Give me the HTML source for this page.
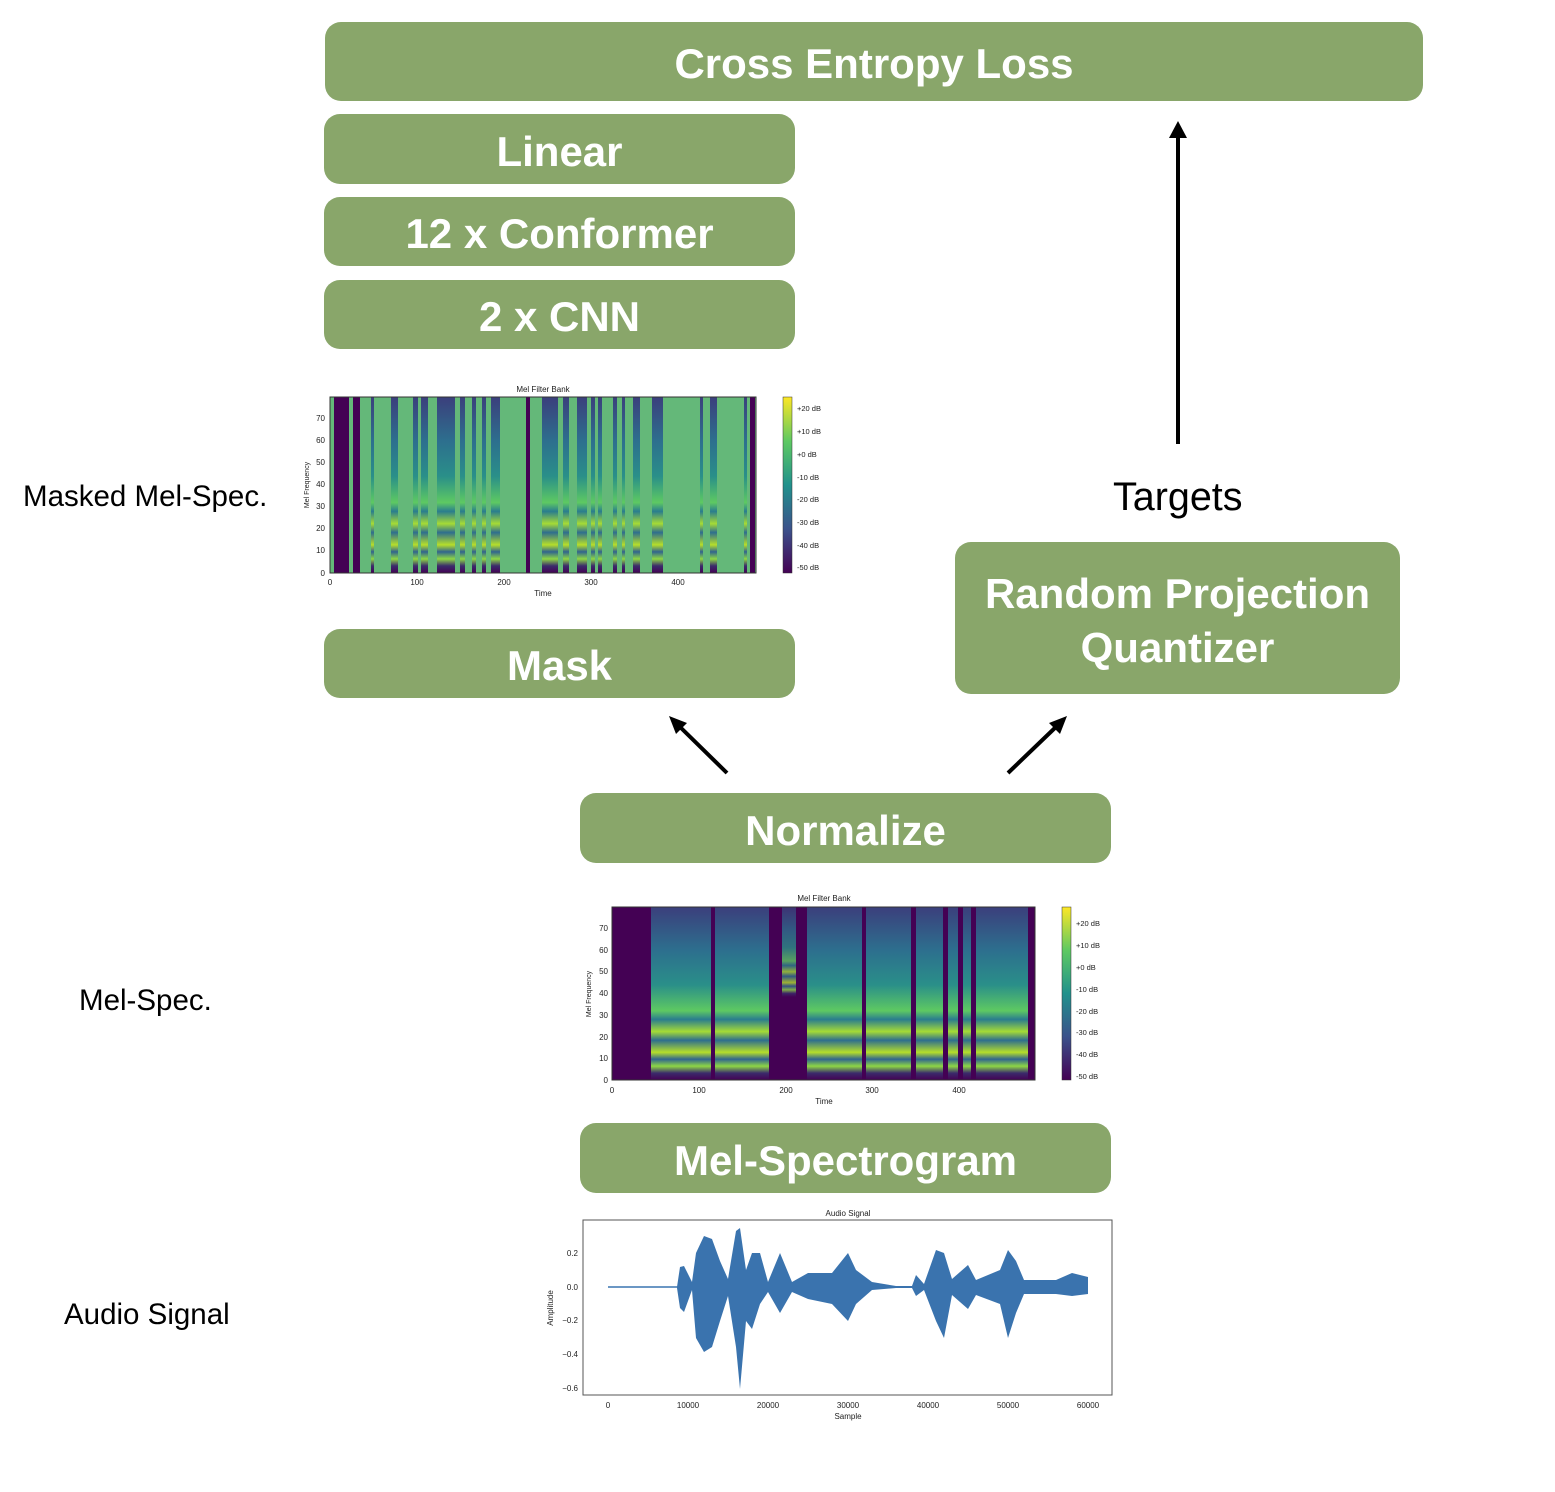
<!DOCTYPE html>
<html><head><meta charset="utf-8"><style>
html,body{margin:0;padding:0;background:#fff;}
body{width:1555px;height:1492px;position:relative;overflow:hidden;font-family:"Liberation Sans",Arial,sans-serif;}
.b{position:absolute;background:#89a66a;border-radius:16px;color:#fff;font-weight:bold;display:flex;align-items:center;justify-content:center;text-align:center;font-size:42px;line-height:54px;box-sizing:border-box;padding-top:5px;}
.l{position:absolute;color:#000;font-size:29.5px;}
svg{position:absolute;left:0;top:0;}
</style></head><body>
<div class="b" style="left:325px;top:22px;width:1098px;height:79px;">Cross Entropy Loss</div>
<div class="b" style="left:324px;top:114px;width:471px;height:70px;">Linear</div>
<div class="b" style="left:324px;top:197px;width:471px;height:69px;">12 x Conformer</div>
<div class="b" style="left:324px;top:280px;width:471px;height:69px;">2 x CNN</div>
<div class="b" style="left:324px;top:629px;width:471px;height:69px;">Mask</div>
<div class="b" style="left:955px;top:542px;width:445px;height:152px;">Random Projection<br>Quantizer</div>
<div class="b" style="left:580px;top:793px;width:531px;height:70px;">Normalize</div>
<div class="b" style="left:580px;top:1123px;width:531px;height:70px;">Mel-Spectrogram</div>
<div class="l" style="left:23px;top:480px;">Masked Mel-Spec.</div>
<div class="l" style="left:79px;top:984px;">Mel-Spec.</div>
<div class="l" style="left:64px;top:1298px;">Audio Signal</div>
<div class="l" style="left:1113px;top:475px;font-size:39.5px;">Targets</div>

<svg width="1555" height="1492" viewBox="0 0 1555 1492" font-family="Liberation Sans, sans-serif">
<defs>
<linearGradient id="sp" x1="0" y1="0" x2="0" y2="1">
<stop offset="0" stop-color="#3b3f7c"/><stop offset="0.25" stop-color="#2d6f8e"/>
<stop offset="0.45" stop-color="#2a8f89"/><stop offset="0.6" stop-color="#5ec962"/>
<stop offset="0.65" stop-color="#2a7d8e"/><stop offset="0.72" stop-color="#a5db36"/>
<stop offset="0.77" stop-color="#2e6e8e"/><stop offset="0.84" stop-color="#b5de2b"/>
<stop offset="0.88" stop-color="#31658e"/><stop offset="0.92" stop-color="#8ed645"/>
<stop offset="0.96" stop-color="#3b2b6b"/><stop offset="1" stop-color="#440154"/>
</linearGradient>
<linearGradient id="cb" x1="0" y1="1" x2="0" y2="0">
<stop offset="0" stop-color="#440154"/><stop offset="0.25" stop-color="#3b528b"/>
<stop offset="0.5" stop-color="#21918c"/><stop offset="0.75" stop-color="#5ec962"/>
<stop offset="1" stop-color="#fde725"/>
</linearGradient>
</defs>

<line x1="1178" y1="444" x2="1178" y2="132" stroke="#000" stroke-width="4"/>
<path d="M1169,138 L1178,121 L1187,138 z" fill="#000"/>
<line x1="727" y1="773" x2="678" y2="725" stroke="#000" stroke-width="4"/>
<path d="M669,716 L687,723 L676,734 z" fill="#000"/>
<line x1="1008" y1="773" x2="1058" y2="725" stroke="#000" stroke-width="4"/>
<path d="M1067,716 L1060,734 L1049,723 z" fill="#000"/>

<g font-size="8" fill="#222">
<text x="543" y="392" text-anchor="middle">Mel Filter Bank</text>
<rect x="330" y="397" width="426" height="176" fill="#64b879"/>
<g fill="url(#sp)">
<rect x="371" y="397" width="3" height="176"/><rect x="391" y="397" width="7" height="176"/>
<rect x="413" y="397" width="5" height="176"/><rect x="421" y="397" width="7" height="176"/>
<rect x="437" y="397" width="18" height="176"/><rect x="460" y="397" width="5" height="176"/>
<rect x="472" y="397" width="4" height="176"/><rect x="482" y="397" width="4" height="176"/>
<rect x="491" y="397" width="9" height="176"/><rect x="542" y="397" width="16" height="176"/>
<rect x="563" y="397" width="6" height="176"/><rect x="577" y="397" width="10" height="176"/>
<rect x="591" y="397" width="4" height="176"/><rect x="598" y="397" width="4" height="176"/>
<rect x="613" y="397" width="4" height="176"/><rect x="622" y="397" width="3" height="176"/>
<rect x="633" y="397" width="7" height="176"/><rect x="652" y="397" width="11" height="176"/>
<rect x="700" y="397" width="3" height="176"/><rect x="710" y="397" width="7" height="176"/>
<rect x="744" y="397" width="3" height="176"/>
</g>
<rect x="334" y="397" width="15" height="176" fill="#440154"/>
<rect x="353" y="397" width="7" height="176" fill="#440154"/>
<rect x="526" y="397" width="4" height="176" fill="#440154"/>
<rect x="750" y="397" width="5" height="176" fill="#440154"/>
<rect x="330" y="397" width="426" height="176" fill="none" stroke="#333" stroke-width="1"/>
<rect x="783" y="397" width="9" height="176" fill="url(#cb)" stroke="#333" stroke-width="0.5"/>
<g text-anchor="end"><text x="325" y="576">0</text><text x="325" y="553">10</text><text x="325" y="531">20</text><text x="325" y="509">30</text><text x="325" y="487">40</text><text x="325" y="465">50</text><text x="325" y="443">60</text><text x="325" y="421">70</text></g>
<g text-anchor="middle"><text x="330" y="585">0</text><text x="417" y="585">100</text><text x="504" y="585">200</text><text x="591" y="585">300</text><text x="678" y="585">400</text><text x="543" y="596">Time</text></g>
<text x="0" y="0" transform="translate(309,485) rotate(-90)" text-anchor="middle" font-size="7">Mel Frequency</text>
<g font-size="7.5"><text x="797" y="411">+20 dB</text><text x="797" y="434">+10 dB</text><text x="797" y="457">+0 dB</text><text x="797" y="480">-10 dB</text><text x="797" y="502">-20 dB</text><text x="797" y="525">-30 dB</text><text x="797" y="548">-40 dB</text><text x="797" y="570">-50 dB</text></g>
</g>

<g font-size="8" fill="#222">
<text x="824" y="901" text-anchor="middle">Mel Filter Bank</text>
<rect x="612" y="907" width="423" height="173" fill="#440154"/>
<g fill="url(#sp)">
<rect x="651" y="907" width="60" height="173"/><rect x="715" y="907" width="54" height="173"/>
<rect x="782" y="907" width="14" height="90" opacity="0.8"/>
<rect x="807" y="907" width="55" height="173"/><rect x="866" y="907" width="45" height="173"/>
<rect x="916" y="907" width="27" height="173"/><rect x="948" y="907" width="10" height="173"/>
<rect x="963" y="907" width="8" height="173"/><rect x="976" y="907" width="52" height="173"/>
</g>
<rect x="612" y="907" width="423" height="173" fill="none" stroke="#333" stroke-width="1"/>
<rect x="1062" y="907" width="9" height="173" fill="url(#cb)" stroke="#333" stroke-width="0.5"/>
<g text-anchor="end"><text x="608" y="1083">0</text><text x="608" y="1061">10</text><text x="608" y="1040">20</text><text x="608" y="1018">30</text><text x="608" y="996">40</text><text x="608" y="974">50</text><text x="608" y="953">60</text><text x="608" y="931">70</text></g>
<g text-anchor="middle"><text x="612" y="1093">0</text><text x="699" y="1093">100</text><text x="786" y="1093">200</text><text x="872" y="1093">300</text><text x="959" y="1093">400</text><text x="824" y="1104">Time</text></g>
<text x="0" y="0" transform="translate(591,994) rotate(-90)" text-anchor="middle" font-size="7">Mel Frequency</text>
<g font-size="7.5"><text x="1076" y="926">+20 dB</text><text x="1076" y="948">+10 dB</text><text x="1076" y="970">+0 dB</text><text x="1076" y="992">-10 dB</text><text x="1076" y="1014">-20 dB</text><text x="1076" y="1035">-30 dB</text><text x="1076" y="1057">-40 dB</text><text x="1076" y="1079">-50 dB</text></g>
</g>

<g font-size="8" fill="#222">
<text x="848" y="1216" text-anchor="middle">Audio Signal</text>
<rect x="583" y="1220" width="529" height="175" fill="none" stroke="#555" stroke-width="1"/>
<line x1="608" y1="1287" x2="680" y2="1287" stroke="#3a75b0" stroke-width="1.5"/>
<polygon fill="#3a73ae" points="677,1287 680,1267 684,1266 692,1282 696,1253 704,1236 712,1239 720,1261 728,1279 736,1231 740,1228 746,1270 752,1253 760,1253 768,1282 780,1253 792,1282 808,1273 832,1273 848,1253 856,1270 872,1282 896,1286 912,1286 916,1275 924,1284 936,1250 944,1253 952,1279 968,1265 976,1280 1000,1270 1008,1250 1016,1261 1024,1280 1056,1280 1072,1273 1088,1277 1088,1294 1072,1296 1056,1294 1024,1294 1016,1313 1008,1338 1000,1304 976,1295 968,1309 952,1295 944,1338 936,1321 924,1290 916,1296 912,1288 896,1288 872,1290 856,1304 848,1321 832,1304 808,1299 792,1292 780,1313 768,1292 760,1304 752,1329 746,1321 740,1389 736,1347 728,1296 720,1321 712,1347 704,1352 696,1338 692,1290 684,1312 680,1308 677,1288"/>
<g text-anchor="end"><text x="578" y="1256">0.2</text><text x="578" y="1290">0.0</text><text x="578" y="1323">−0.2</text><text x="578" y="1357">−0.4</text><text x="578" y="1391">−0.6</text></g>
<g text-anchor="middle"><text x="608" y="1408">0</text><text x="688" y="1408">10000</text><text x="768" y="1408">20000</text><text x="848" y="1408">30000</text><text x="928" y="1408">40000</text><text x="1008" y="1408">50000</text><text x="1088" y="1408">60000</text><text x="848" y="1419">Sample</text></g>
<text x="0" y="0" transform="translate(553,1308) rotate(-90)" text-anchor="middle" font-size="8">Amplitude</text>
</g>
</svg>
</body></html>
